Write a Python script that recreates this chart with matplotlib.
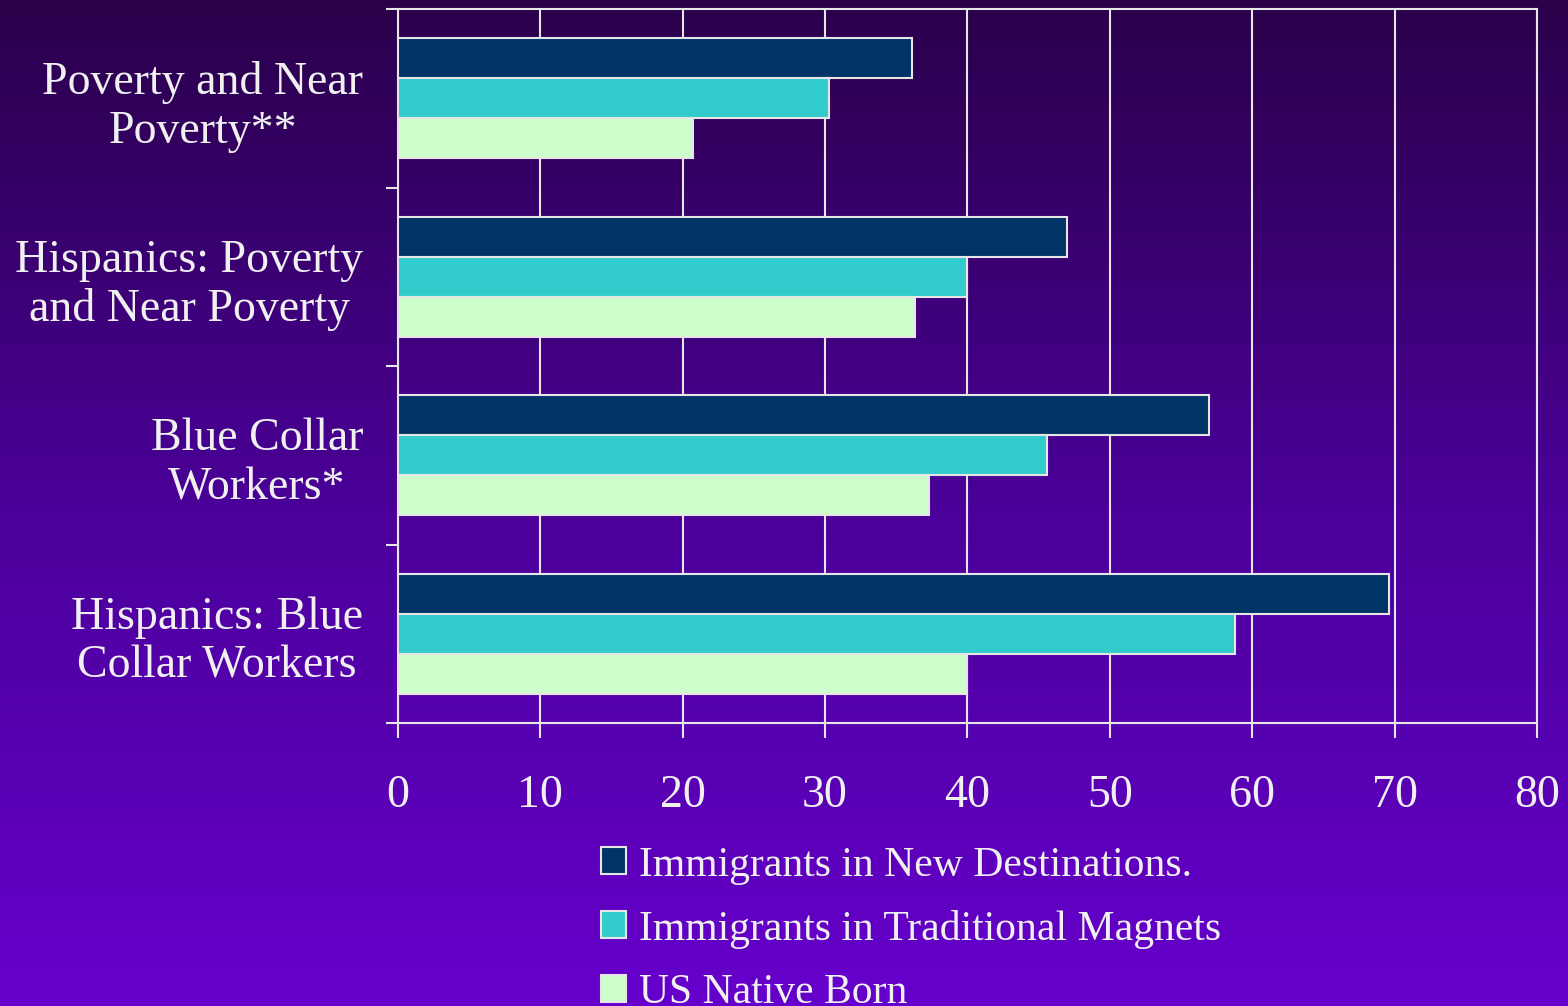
import numpy as np
import matplotlib
matplotlib.use('Agg')
import matplotlib.pyplot as plt
from matplotlib.colors import LinearSegmentedColormap

plt.rcParams['font.family'] = ['Liberation Serif', 'DejaVu Serif']

categories = ['Poverty and Near\nPoverty**', 'Hispanics: Poverty\nand Near Poverty',
              'Blue Collar\nWorkers*', 'Hispanics: Blue\nCollar Workers']
series_names = ['Immigrants in New Destinations.', 'Immigrants in Traditional Magnets', 'US Native Born']
new_dest = [36.1, 47.0, 57.0, 69.6]
traditional = [30.3, 40.0, 45.6, 58.8]
native_born = [20.7, 36.3, 37.3, 40.0]
colors = ['#003366', '#33cccc', '#ccffcc']
xticks = [0, 10, 20, 30, 40, 50, 60, 70, 80]

txt = '#f0f0f0'
fig = plt.figure(figsize=(15.68, 10.06), dpi=100)

# gradient background
bg = fig.add_axes([0, 0, 1, 1], zorder=-10)
cmap = LinearSegmentedColormap.from_list('bg', ['#2a004a', '#4a0098', '#6600cc'])
grad = np.linspace(0, 1, 256).reshape(-1, 1)
bg.imshow(grad, aspect='auto', cmap=cmap, extent=[0, 1, 0, 1], origin='upper')
bg.axis('off')

ax = fig.add_axes([0.2538, 0.2813, 0.9802 - 0.2538, 0.99105 - 0.2813])
ax.patch.set_alpha(0)

h = 0.2235
y = np.arange(len(categories)) + 0.5
for i, (vals, c, name) in enumerate(zip([new_dest, traditional, native_born], colors, series_names)):
    ax.barh(y + (i - 1) * h, vals, height=h, color=c, edgecolor='#e6e6e6', linewidth=1.5,
            label=name, zorder=3)

ax.set_xlim(0, 80)
ax.set_ylim(len(categories), 0)
ax.set_xticks(xticks)
ax.set_yticks(np.arange(len(categories) + 1))
ax.set_yticklabels([])
ax.set_yticks(y, minor=True)
ax.set_yticklabels(categories, minor=True, fontsize=33, color=txt)
for lab in ax.get_yticklabels(minor=True):
    lab.set_multialignment('center')
ax.tick_params(axis='y', which='minor', length=0, pad=25)
ax.tick_params(axis='y', which='major', length=9, width=1.5, color='#e6e6e6')
ax.tick_params(axis='x', length=11, width=1.5, color='#e6e6e6', labelsize=33,
               labelcolor=txt, pad=26)
ax.grid(axis='x', color='#e6e6e6', linewidth=1.5, zorder=1)
ax.set_axisbelow(True)
for s in ax.spines.values():
    s.set_color('#e6e6e6')
    s.set_linewidth(1.5)

fig.legend(loc='upper left', bbox_to_anchor=(0.383, 0.159), frameon=False, fontsize=30,
           labelcolor=txt, handlelength=0.62, handleheight=0.62, handletextpad=0.31,
           labelspacing=0.6, borderpad=0, borderaxespad=0)

fig.savefig('out.png', dpi=100)
